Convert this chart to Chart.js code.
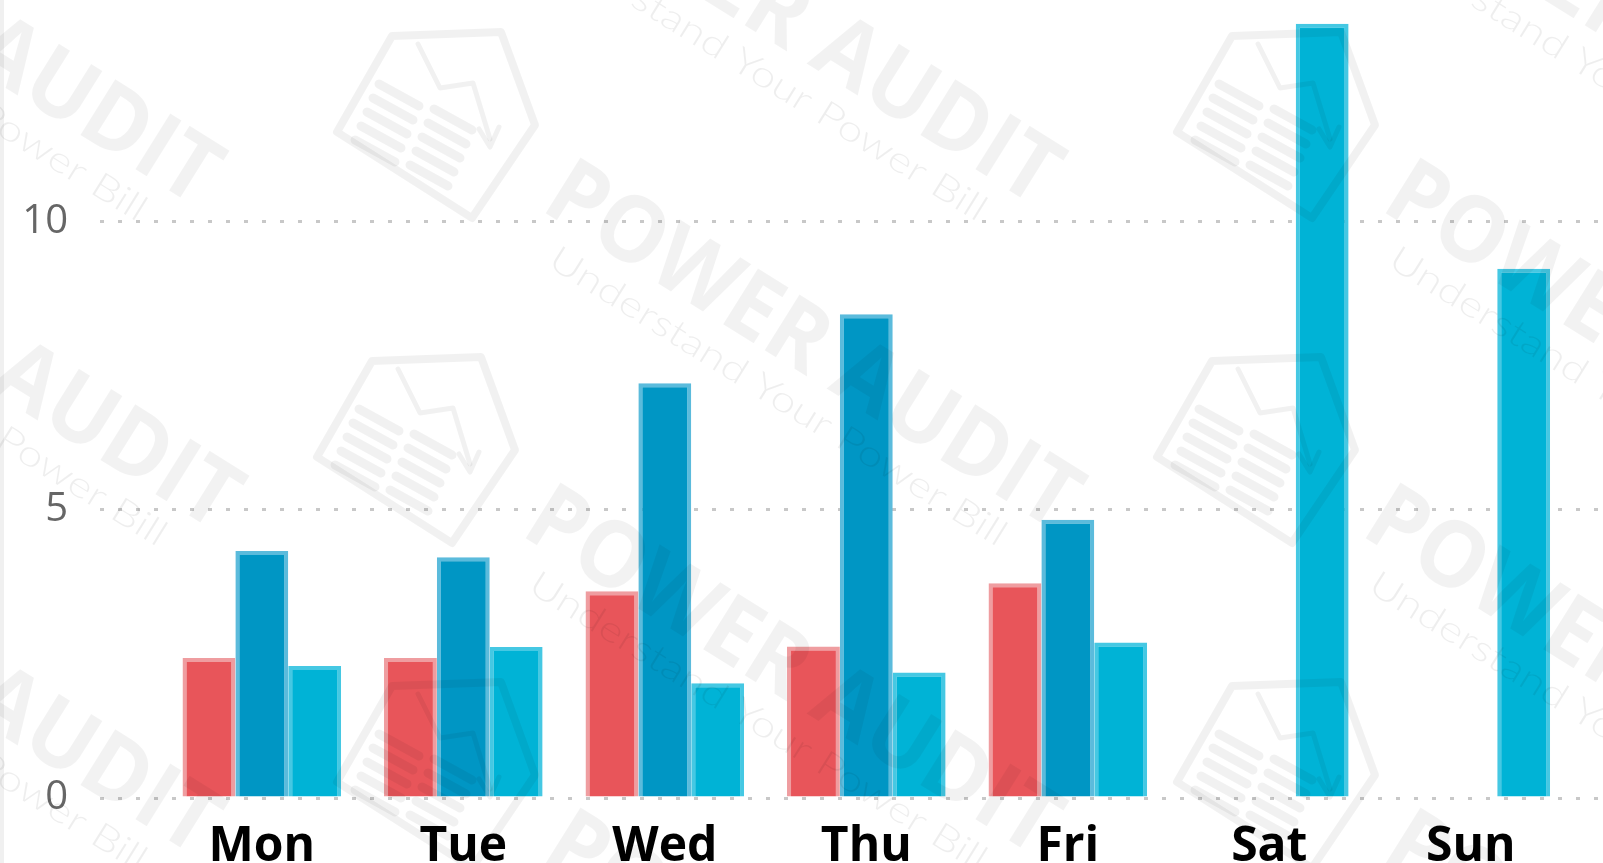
<!DOCTYPE html>
<html>
<head>
<meta charset="utf-8">
<script src="https://cdn.jsdelivr.net/npm/chart.js@4/dist/chart.umd.min.js"></script>
<style>
  html, body { margin: 0; padding: 0; background: #ffffff; overflow: hidden; }
  #wrap { position: absolute; left: 0; top: 0; width: 1603px; height: 900px; }
</style>
</head>
<body>
<div id="wrap"><canvas id="c" width="1603" height="900"></canvas></div>
<script>
// ---- data ----
const days = ['Mon', 'Tue', 'Wed', 'Thu', 'Fri', 'Sat', 'Sun'];
const seriesRed  = [2.43, 2.43, 3.59, 2.63, 3.73, null, null];
const seriesDark = [4.29, 4.18, 7.20, 8.40, 4.83, null, null];
const seriesCyan = [2.29, 2.62, 1.99, 2.18, 2.70, 13.44, 9.19];
const yTicks = [0, 5, 10];
const watermarkTitle = 'POWER AUDIT';
const watermarkSubtitle = 'Understand Your Power Bill';

function pts(arr) { return arr.map((v, i) => ({ x: i, y: v })); }

// faint repeated watermark (decoration of the original screenshot)
const watermark = {
  id: 'watermark',
  afterDraw(chart) {
    const c = chart.ctx;
    const ang = 32 * Math.PI / 180;
    c.save();
    // faint left edge line
    c.fillStyle = '#F0F0F0';
    c.fillRect(0, 0, 4, chart.height);
    for (let row = -1; row <= 3; row++) {
      for (let col = -1; col <= 2; col++) {
        const px = 539 + col * 840 + (row % 2 !== 0 ? -20 : 0);
        const py = 209 + row * 325;
        // icon (tilted bill)
        c.save();
        c.translate(px, py);
        c.strokeStyle = 'rgba(0,0,0,0.055)';
        c.lineJoin = 'round';
        c.lineCap = 'round';
        c.lineWidth = 8;
        c.beginPath();
        c.moveTo(-147, -173); c.lineTo(-38, -177); c.lineTo(-4, -84);
        c.lineTo(-67, 9); c.lineTo(-202, -77); c.closePath();
        c.stroke();
        c.lineWidth = 5;
        c.beginPath();
        c.moveTo(-121, -165); c.lineTo(-99, -121); c.lineTo(-66, -126); c.lineTo(-49, -70);
        c.stroke();
        c.beginPath();
        c.moveTo(-60, -80); c.lineTo(-49, -62); c.lineTo(-40, -82);
        c.stroke();
        c.lineWidth = 9;
        for (let k = 0; k < 5; k++) {
          const ox = -160 + k * -6, oy = -125 + k * 14;
          c.beginPath(); c.moveTo(ox, oy); c.lineTo(ox + 40, oy + 22); c.stroke();
          const ox2 = -105 + k * -6, oy2 = -100 + k * 14;
          c.beginPath(); c.moveTo(ox2, oy2); c.lineTo(ox2 + 38, oy2 + 21); c.stroke();
        }
        c.restore();
        // title
        c.save();
        c.translate(px, py);
        c.rotate(ang);
        c.fillStyle = 'rgba(0,0,0,0.05)';
        c.font = 'bold 92px "Open Sans"';
        c.textBaseline = 'alphabetic';
        let w = c.measureText(watermarkTitle).width;
        c.save(); c.scale(610 / w, 1); c.fillText(watermarkTitle, 0, 0); c.restore();
        c.fillStyle = 'rgba(0,0,0,0.065)';
        c.font = '300 36px Lato';
        w = c.measureText(watermarkSubtitle).width;
        c.translate(36, 44);
        c.scale(532 / w, 1);
        c.fillText(watermarkSubtitle, 0, 0);
        c.restore();
      }
    }
    c.restore();
  }
};

const ctx = document.getElementById('c').getContext('2d');
new Chart(ctx, {
  type: 'bar',
  data: {
    datasets: [
      { data: pts(seriesRed),  backgroundColor: '#E8555A', borderColor: '#EF9DA0', borderWidth: 4, borderSkipped: 'bottom' },
      { data: pts(seriesDark), backgroundColor: '#0096C4', borderColor: '#5BBBDC', borderWidth: 4, borderSkipped: 'bottom' },
      { data: pts(seriesCyan), backgroundColor: '#00B3D6', borderColor: '#45C8E3', borderWidth: 4, borderSkipped: 'bottom' }
    ]
  },
  options: {
    responsive: false,
    animation: false,
    devicePixelRatio: 1,
    layout: { padding: 0 },
    plugins: { legend: { display: false }, tooltip: { enabled: false } },
    datasets: { bar: { categoryPercentage: 0.787, barPercentage: 1.0 } },
    scales: {
      x: {
        type: 'linear',
        offset: false,
        min: -0.803,
        max: 6.656,
        grid: { display: false, drawTicks: false },
        border: { display: false },
        afterBuildTicks: (s) => { s.ticks = days.map((_, i) => ({ value: i })); },
        afterFit: (s) => { s.height = 102; s.paddingLeft = 0; s.paddingRight = 0; },
        ticks: {
          autoSkip: false,
          maxRotation: 0,
          padding: 21,
          color: '#000000',
          font: { family: 'Open Sans', size: 48, weight: 'bold' },
          callback: (v) => days[v]
        }
      },
      y: {
        min: 0,
        max: 13.854,
        afterBuildTicks: (s) => { s.ticks = yTicks.map(v => ({ value: v })); },
        afterFit: (s) => { s.width = 100; s.paddingTop = 0; s.paddingBottom = 0; },
        border: { display: false, dash: [4, 14] },
        grid: {
          drawTicks: false,
          color: '#C8C8C8',
          lineWidth: 3
        },
        ticks: {
          padding: 32,
          color: '#666666',
          font: { family: 'Open Sans', size: 40 }
        }
      }
    }
  },
  plugins: [watermark]
});
</script>
</body>
</html>
